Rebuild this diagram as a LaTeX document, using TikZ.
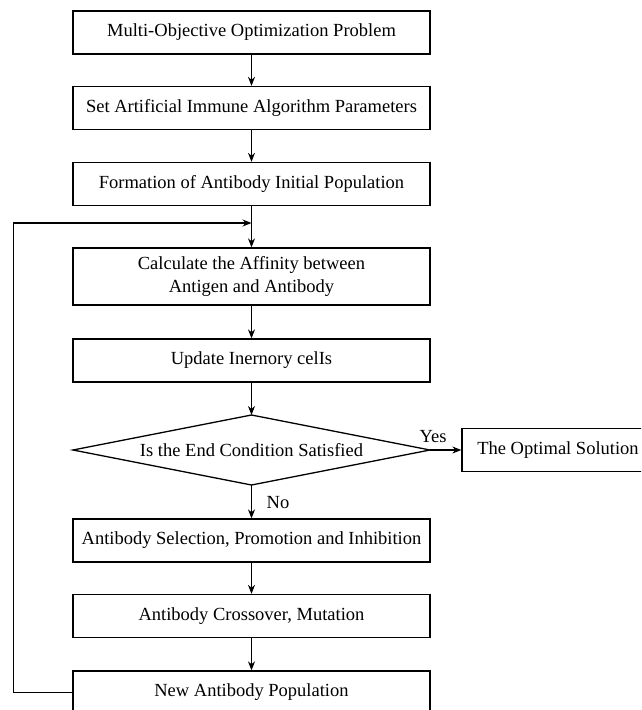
\documentclass[tikz,border=0pt]{standalone}
\usepackage{fontspec}
\setmainfont{Liberation Serif}
\usetikzlibrary{arrows.meta}
\begin{document}
\begin{tikzpicture}[x=1pt,y=-1pt,
  txt/.style={font=\fontsize{18.5}{22.5}\selectfont},
  box/.style={txt, draw, line width=1.3pt, minimum width=357pt, minimum height=43pt, inner sep=2pt, align=center},
  shapeline/.style={line width=1.3pt, line join=miter},
  arr/.style={-{Stealth[length=9pt,width=7pt]}, line width=1.1pt},
  lbl/.style={txt, inner sep=0pt}]
\fill[white] (0,0) rectangle (641,710);
\clip (0,0) rectangle (641,710);
\node[box] (b1) at (251.5,32.5) {Multi-Objective Optimization Problem};
\node[box] (b2) at (251.5,108) {Set Artificial Immune Algorithm Parameters};
\node[box] (b3) at (251.5,184) {Formation of Antibody Initial Population};
\node[box, minimum height=57pt] (b4) at (251.5,276.5) {Calculate the Affinity between\\Antigen and Antibody};
\node[box] (b5) at (251.5,360.5) {Update Inernory celIs};
\node[txt] (d) at (251.5,450) {Is the End Condition Satisfied};
\coordinate (dN) at (251.5,415);
\coordinate (dS) at (251.5,485);
\coordinate (dE) at (430,450);
\coordinate (dW) at (73,450);
\draw[shapeline] (dN) -- (dE) -- (dS) -- (dW) -- cycle;
\node[box, minimum width=192pt] (opt) at (558,450) {The Optimal Solution};
\node[box] (b6) at (251.5,540.5) {Antibody Selection, Promotion and Inhibition};
\node[box] (b7) at (251.5,616) {Antibody Crossover, Mutation};
\node[box] (b8) at (251.5,692.5) {New Antibody Population};
\node[lbl] (yes) at (433,437) {Yes};
\node[lbl] (no) at (278,503) {No};
\coordinate (fb) at (251.5,223);
\draw[arr] (b1) -- (b2);
\draw[arr] (b2) -- (b3);
\draw[arr] (b3) -- (b4);
\draw[arr] (b4) -- (b5);
\draw[arr] (b5) -- (dN);
\draw[arr] (dE) -- (opt.west);
\draw[arr] (dS) -- (b6.north);
\draw[arr] (b6) -- (b7);
\draw[arr] (b7) -- (b8);
\draw[arr] (b8.west) -- ++(-59,0) |- (fb);
\end{tikzpicture}
\end{document}
